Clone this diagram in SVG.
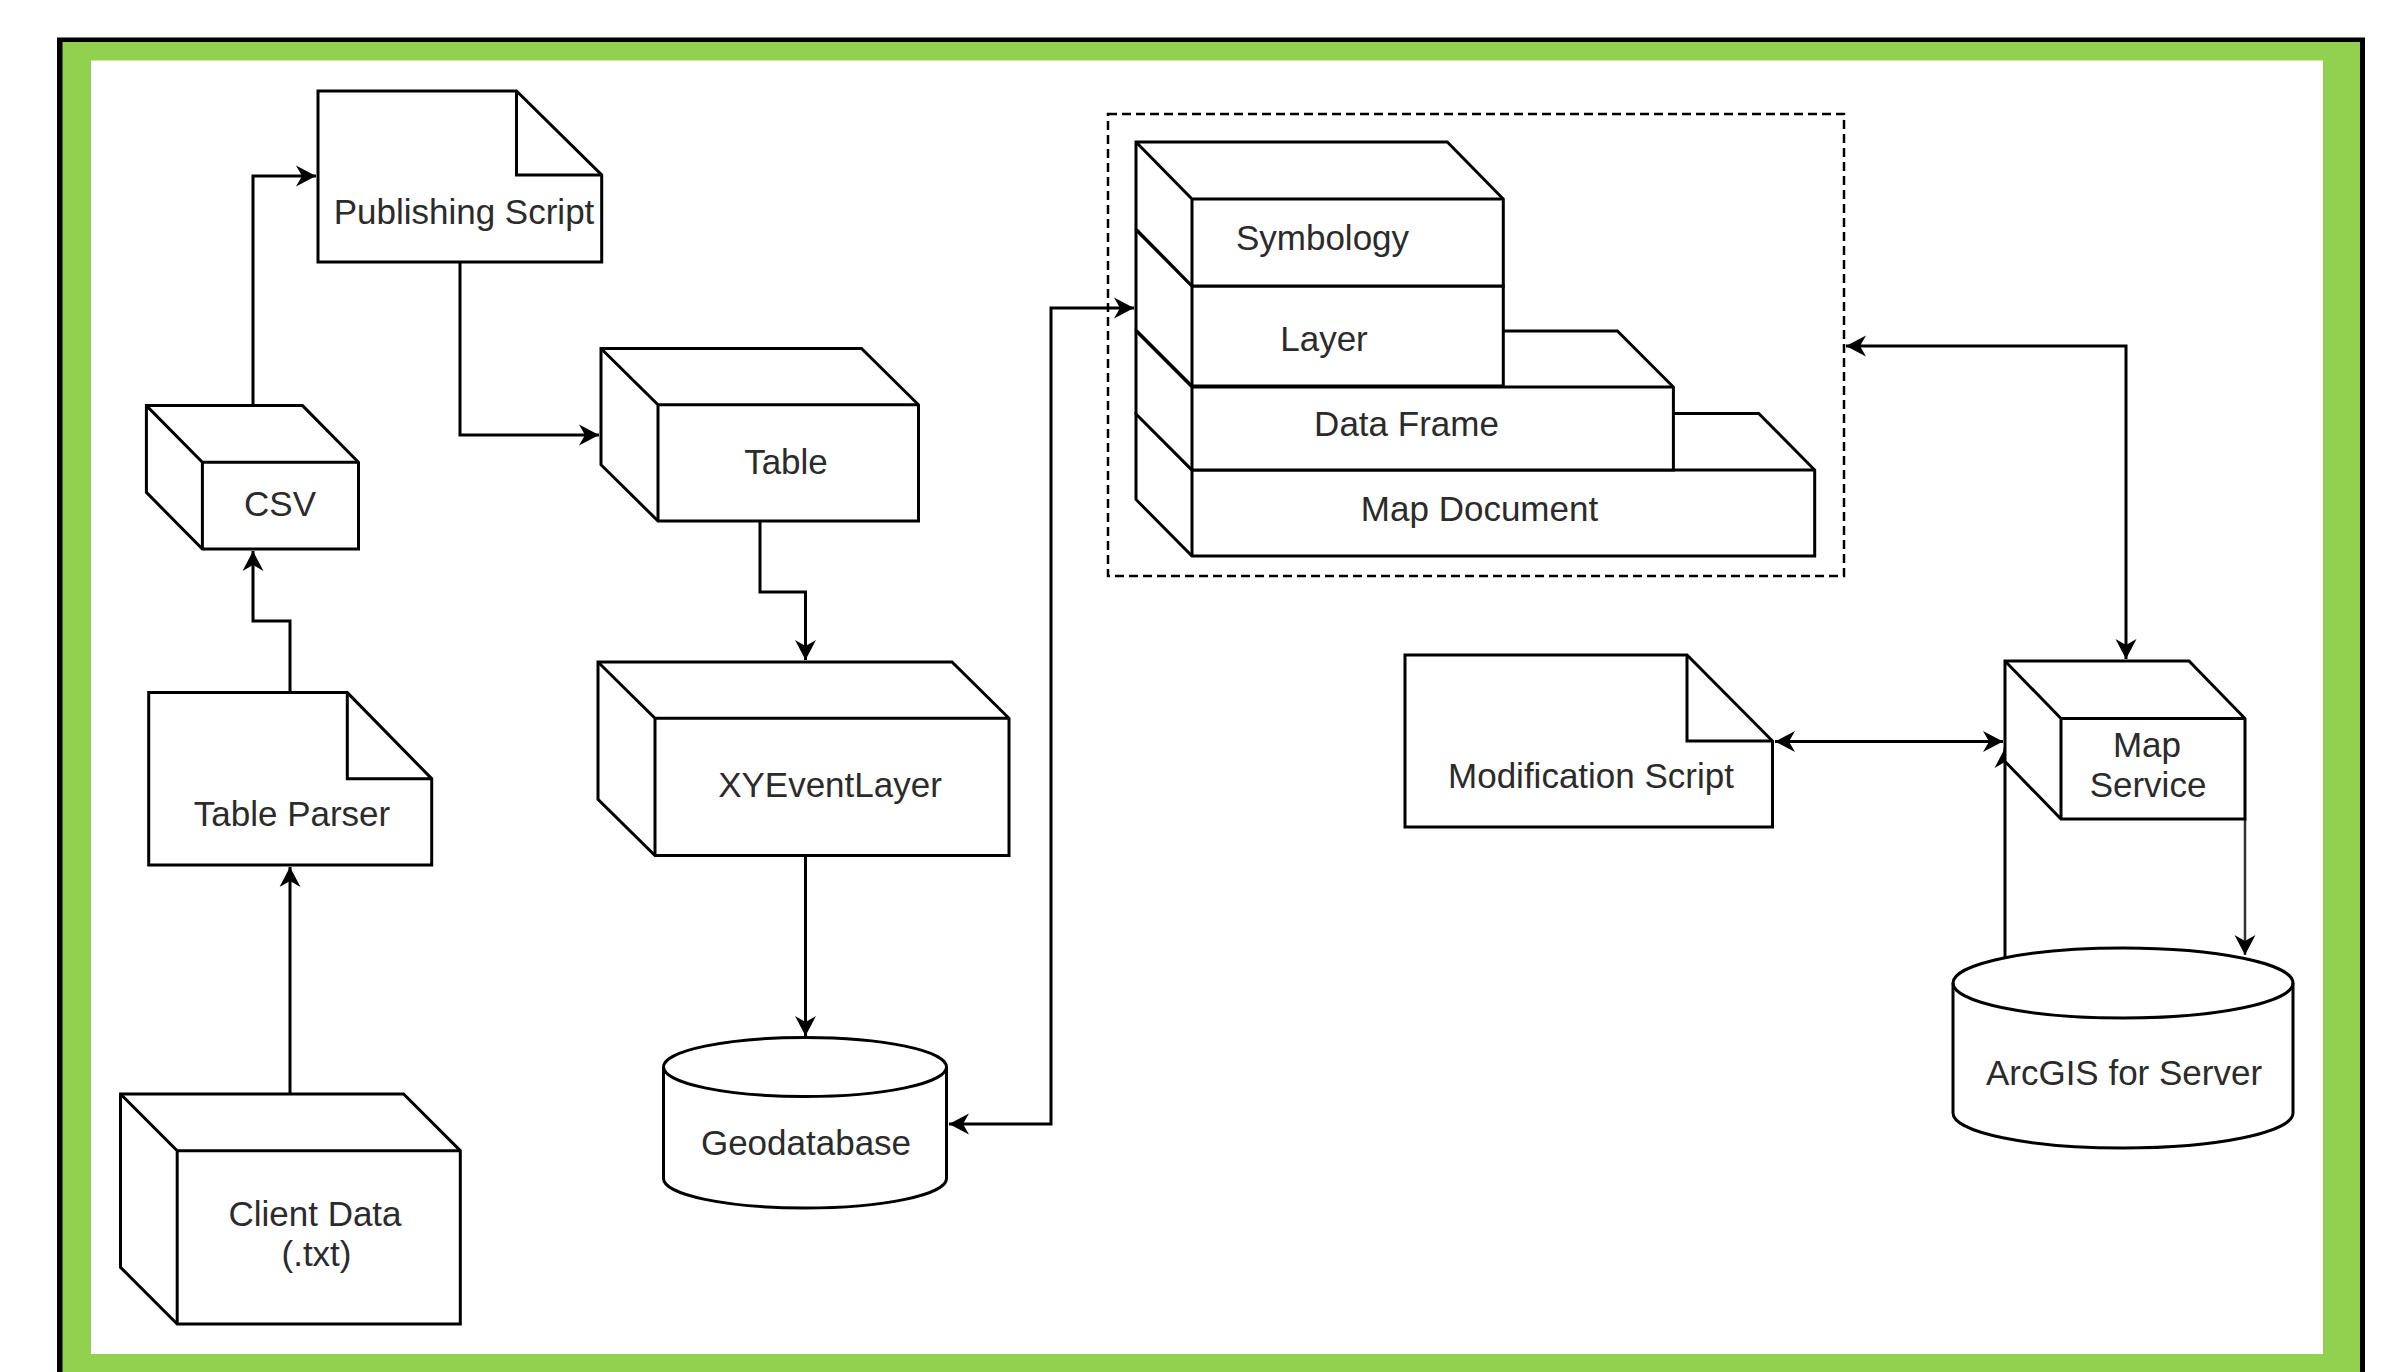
<svg xmlns="http://www.w3.org/2000/svg" width="2386" height="1372" viewBox="0 0 2386 1372">
  <style>
    .shape { fill: #ffffff; stroke: #000000; stroke-width: 3; stroke-linejoin: miter; }
    .inner { fill: none; stroke: #000000; stroke-width: 3; }
    .lbl { font-family: "Liberation Sans", Arial, Helvetica, sans-serif; font-size: 35px; fill: #2b2b2b; text-anchor: middle; }
    .conn { fill: none; stroke: #000000; stroke-width: 3; }
    .dash { fill: none; stroke: #000000; stroke-width: 2.5; stroke-dasharray: 9 5; }
  </style>
  <defs>
    <marker id="arr" viewBox="-22 -12 24 24" refX="0" refY="0" markerWidth="24" markerHeight="24" markerUnits="userSpaceOnUse" orient="auto-start-reverse">
      <path d="M0,0 L-20,-10.5 L-14,0 L-20,10.5 Z" fill="#000000"/>
    </marker>
  </defs>

  <!-- frame -->
  <g id="frame">
    <rect x="57" y="37.5" width="2308" height="1345" fill="#000000"/>
    <rect x="62.5" y="42" width="2297.5" height="1340" fill="#92D050"/>
    <rect x="91" y="60.5" width="2232" height="1293.5" fill="#ffffff"/>
  </g>

  <!-- connectors -->
  <g id="connectors">
    <path class="conn" d="M253,405.6 V176 H316" marker-end="url(#arr)"/>
    <path class="conn" d="M290,692.6 V621 H253 V551" marker-end="url(#arr)"/>
    <path class="conn" d="M290,1094 V867" marker-end="url(#arr)"/>
    <path class="conn" d="M460,262 V435 H599" marker-end="url(#arr)"/>
    <path class="conn" d="M760,521 V592 H805.5 V660" marker-end="url(#arr)"/>
    <path class="conn" d="M805.5,855.6 V1036" marker-end="url(#arr)"/>
    <path class="conn" d="M949,1124 H1051 V308 H1134" marker-start="url(#arr)" marker-end="url(#arr)"/>
    <path class="conn" d="M1846,346 H2126 V659" marker-start="url(#arr)" marker-end="url(#arr)"/>
    <path class="conn" d="M1775,741.5 H2003" marker-start="url(#arr)" marker-end="url(#arr)"/>
    <path class="conn" d="M2005,957 V748" marker-end="url(#arr)"/>
    <path class="conn" d="M2245,819 V955" style="stroke:#333333;stroke-width:2.5" marker-end="url(#arr)"/>
  </g>

  <!-- Publishing Script -->
  <g id="publishing-script">
    <path class="shape" d="M318,91 H516.5 L601.7,175 V262 H318 Z"/>
    <path class="inner" d="M516.5,91 V175 H601.7"/>
    <text class="lbl" x="464" y="224">Publishing Script</text>
  </g>

  <!-- CSV -->
  <g id="csv">
    <path class="shape" d="M146.4,405.6 H302.5 L358.5,462.3 V549.1 H202.4 L146.4,492.4 Z"/>
    <path class="inner" d="M146.4,405.6 L202.4,462.3 H358.5 M202.4,462.3 V549.1"/>
    <text class="lbl" x="280" y="516">CSV</text>
  </g>

  <!-- Table Parser -->
  <g id="table-parser">
    <path class="shape" d="M148.7,692.6 H347.3 L431.7,778.7 V865 H148.7 Z"/>
    <path class="inner" d="M347.3,692.6 V778.7 H431.7"/>
    <text class="lbl" x="292" y="826">Table Parser</text>
  </g>

  <!-- Client Data -->
  <g id="client-data">
    <path class="shape" d="M120.5,1094 H403.6 L460.3,1150.7 V1324 H177.2 L120.5,1267.3 Z"/>
    <path class="inner" d="M120.5,1094 L177.2,1150.7 H460.3 M177.2,1150.7 V1324"/>
    <text class="lbl" x="315" y="1226">Client Data</text>
    <text class="lbl" x="316.5" y="1266">(.txt)</text>
  </g>

  <!-- Table -->
  <g id="table">
    <path class="shape" d="M601,348.5 H861.5 L918.5,404.8 V521 H658 L601,464.7 Z"/>
    <path class="inner" d="M601,348.5 L658,404.8 H918.5 M658,404.8 V521"/>
    <text class="lbl" x="786" y="474">Table</text>
  </g>

  <!-- XYEventLayer -->
  <g id="xyeventlayer">
    <path class="shape" d="M598,662 H952 L1009,718.3 V855.6 H655 L598,799.3 Z"/>
    <path class="inner" d="M598,662 L655,718.3 H1009 M655,718.3 V855.6"/>
    <text class="lbl" x="830" y="797">XYEventLayer</text>
  </g>

  <!-- Geodatabase -->
  <g id="geodatabase">
    <path class="shape" d="M663.5,1067 A141.5,29.5 0 0 1 946.5,1067 V1178.5 A141.5,29.5 0 0 1 663.5,1178.5 Z"/>
    <path class="inner" d="M663.5,1067 A141.5,29.5 0 0 0 946.5,1067"/>
    <text class="lbl" x="806" y="1155">Geodatabase</text>
  </g>

  <!-- Map document group -->
  <g id="map-document-group">
    <rect class="dash" x="1108" y="114" width="736" height="462"/>
  </g>

  <g id="map-document">
    <path class="shape" d="M1136,413.5 H1758.7 L1814.7,470 V556 H1192 L1136,499.5 Z"/>
    <path class="inner" d="M1136,413.5 L1192,470 H1814.7 M1192,470 V556"/>
    <text class="lbl" x="1479.5" y="521">Map Document</text>
  </g>

  <g id="data-frame">
    <path class="shape" d="M1136,331 H1617.4 L1673.4,387 V470 H1192 L1136,414 Z"/>
    <path class="inner" d="M1136,331 L1192,387 H1673.4 M1192,387 V470"/>
    <text class="lbl" x="1406.5" y="435.5">Data Frame</text>
  </g>

  <g id="layer">
    <path class="shape" d="M1136,230 H1447.3 L1503.3,286 V386 H1192 L1136,330 Z"/>
    <path class="inner" d="M1136,230 L1192,286 H1503.3 M1192,286 V386"/>
    <text class="lbl" x="1324" y="351">Layer</text>
  </g>

  <g id="symbology">
    <path class="shape" d="M1136,142 H1447.3 L1503.3,199 V286 H1192 L1136,229 Z"/>
    <path class="inner" d="M1136,142 L1192,199 H1503.3 M1192,199 V286"/>
    <text class="lbl" x="1322.5" y="250">Symbology</text>
  </g>

  <!-- Modification Script -->
  <g id="modification-script">
    <path class="shape" d="M1405,655 H1687 L1772.5,741 V827 H1405 Z"/>
    <path class="inner" d="M1687,655 V741 H1772.5"/>
    <text class="lbl" x="1591" y="788">Modification Script</text>
  </g>

  <!-- Map Service -->
  <g id="map-service">
    <path class="shape" d="M2005,661 H2189 L2245,718.5 V819 H2061 L2005,761.5 Z"/>
    <path class="inner" d="M2005,661 L2061,718.5 H2245 M2061,718.5 V819"/>
    <text class="lbl" x="2147" y="757">Map</text>
    <text class="lbl" x="2148" y="797">Service</text>
  </g>

  <!-- ArcGIS for Server -->
  <g id="arcgis-for-server">
    <path class="shape" d="M1953,983 A170,35 0 0 1 2293,983 V1113 A170,35 0 0 1 1953,1113 Z"/>
    <path class="inner" d="M1953,983 A170,35 0 0 0 2293,983"/>
    <text class="lbl" x="2124" y="1085">ArcGIS for Server</text>
  </g>
</svg>
